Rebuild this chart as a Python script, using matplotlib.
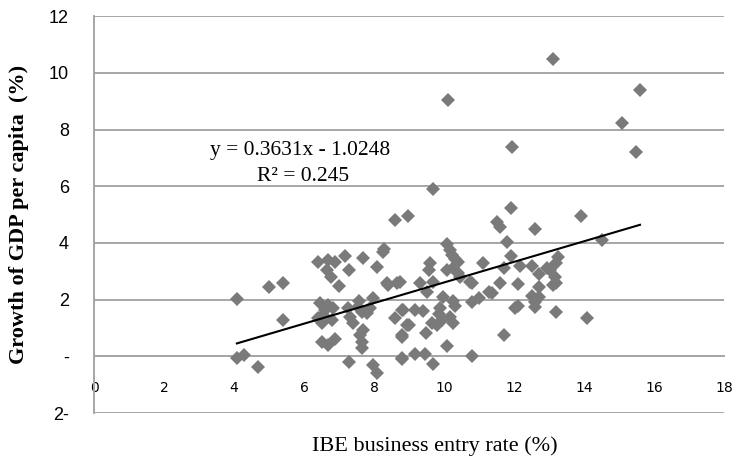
import matplotlib
matplotlib.use("Agg")
import matplotlib.pyplot as plt
import numpy as np

# entry rate (%) vs growth of GDP per capita (%)
entry_rate = [
    4.08, 5.0, 5.4, 5.4, 4.08, 4.29, 4.69,
    6.4, 6.69, 6.89, 7.17, 7.69, 8.26, 6.66, 6.76, 7.29, 8.09, 7.0, 8.37, 8.66,
    6.46, 6.6, 6.83, 6.69, 6.4, 6.5, 6.8, 6.55,
    7.57, 7.97, 7.26, 7.31, 7.4, 7.66, 7.8, 7.89, 7.69, 7.55,
    8.6, 8.8, 8.8, 6.5, 6.69, 6.89, 7.6, 7.66, 7.66, 7.29, 7.97, 8.09, 8.8, 8.94,
    8.29, 8.6, 8.97, 9.69, 10.1, 10.09, 10.17, 10.23, 10.31, 10.4, 9.6, 9.57,
    10.09, 10.26, 10.4, 10.46, 11.1, 10.74, 10.8, 9.68, 9.31, 9.5, 8.74, 8.4,
    9.97, 10.26, 10.31, 10.8, 11.0, 11.29, 8.83, 9.17, 9.4, 9.89, 9.85, 9.94,
    10.17, 10.26, 9.66, 9.8, 9.0, 9.49, 8.8, 10.09, 9.17, 9.46, 9.69, 10.8, 8.8,
    13.1, 15.6, 15.09, 15.49, 11.95, 11.91, 11.5, 11.6, 12.6, 13.91, 14.51,
    11.8, 11.91, 12.17, 11.7, 12.5, 12.7, 13.26, 13.2, 13.03, 13.17, 13.1, 13.2,
    12.95, 11.6, 12.1, 12.7, 11.37, 12.5, 12.7, 12.6, 12.6, 12.03, 12.1, 13.2,
    14.09, 11.7,
]
gdp_growth = [
    2.01, 2.43, 2.6, 1.27, -0.07, 0.04, -0.38,
    3.32, 3.39, 3.32, 3.53, 3.46, 3.67, 3.03, 2.8, 3.03, 3.14, 2.47, 2.57, 2.6,
    1.87, 1.62, 1.69, 1.8, 1.34, 1.16, 1.27, 1.45,
    1.97, 2.05, 1.69, 1.38, 1.16, 1.55, 1.52, 1.69, 0.92, 1.75,
    1.34, 1.62, 0.68, 0.5, 0.39, 0.63, 0.74, 0.5, 0.28, -0.19, -0.32, -0.6, -0.07, 1.09,
    3.77, 4.8, 4.94, 5.89, 9.05, 3.98, 3.74, 3.56, 3.45, 3.32, 3.28, 3.03,
    3.03, 3.1, 2.95, 2.8, 3.28, 2.62, 2.58, 2.62, 2.57, 2.26, 2.62, 2.5,
    2.08, 1.97, 1.76, 1.9, 2.05, 2.26, 1.62, 1.62, 1.59, 1.69, 1.5, 1.27,
    1.38, 1.16, 1.16, 1.1, 1.09, 0.81, 0.74, 0.35, 0.1, 0.07, -0.28, 0.03, -0.1,
    10.5, 9.38, 8.22, 7.2, 7.4, 5.22, 4.73, 4.55, 4.5, 4.94, 4.09,
    4.02, 3.53, 3.17, 3.1, 3.17, 2.92, 3.5, 3.3, 3.03, 2.8, 2.5, 2.6,
    3.1, 2.57, 2.54, 2.43, 2.22, 2.12, 2.08, 1.9, 1.73, 1.69, 1.76, 1.55,
    1.34, 0.74,
]

slope, intercept = 0.3631, -1.0248
r_squared = 0.245

x_ticks = list(range(0, 19, 2))
y_ticks = list(range(-2, 13, 2))
y_tick_labels = ["2-", "-", "2", "4", "6", "8", "10", "12"]

fig = plt.figure(figsize=(7.35, 4.59), dpi=100)
ax = fig.add_axes([0.128, 0.100, 0.857, 0.865])

grid_col = "#a6a6a6"
ax.set_xlim(0, 18)
ax.set_ylim(-2, 12)
ax.set_yticks(y_ticks)
ax.set_yticklabels(y_tick_labels, fontsize=13, family="Liberation Sans")
ax.set_xticks(x_ticks)
ax.set_xticklabels([str(t) for t in x_ticks], fontsize=13, family="Liberation Serif")
ax.yaxis.grid(True, color=grid_col, linewidth=1.4)
ax.set_axisbelow(True)

for s in ["top", "right"]:
    ax.spines[s].set_visible(False)
ax.spines["left"].set_color(grid_col)
ax.spines["left"].set_linewidth(1.4)
ax.spines["bottom"].set_position(("data", 0))
ax.spines["bottom"].set_color(grid_col)
ax.spines["bottom"].set_linewidth(1.4)
ax.tick_params(axis="x", length=0, pad=18)
ax.tick_params(axis="y", length=0, pad=18)

ax.plot(entry_rate, gdp_growth, linestyle="none", marker="D", markersize=7.5,
        color="#7a7a7a", markeredgewidth=0, zorder=3)

xs = np.array([min(entry_rate), max(entry_rate)])
ax.plot(xs, slope * xs + intercept, color="black", linewidth=1.5, zorder=4)

ax.text(5.9, 7.27, f"y = {slope}x - {abs(intercept)}", fontsize=15.5,
        family="Liberation Serif", ha="center", va="center")
ax.text(5.97, 6.35, f"R² = {r_squared}", fontsize=15.5,
        family="Liberation Serif", ha="center", va="center")

fig.text(0.592, 0.028, "IBE business entry rate (%)", fontsize=16,
         family="Liberation Serif", ha="center", va="center")
fig.text(0.026, 0.532, "Growth of GDP per capita  (%)", fontsize=16,
         family="Liberation Serif", fontweight="bold", rotation=90,
         ha="center", va="center")

fig.savefig("out.png", dpi=100)
